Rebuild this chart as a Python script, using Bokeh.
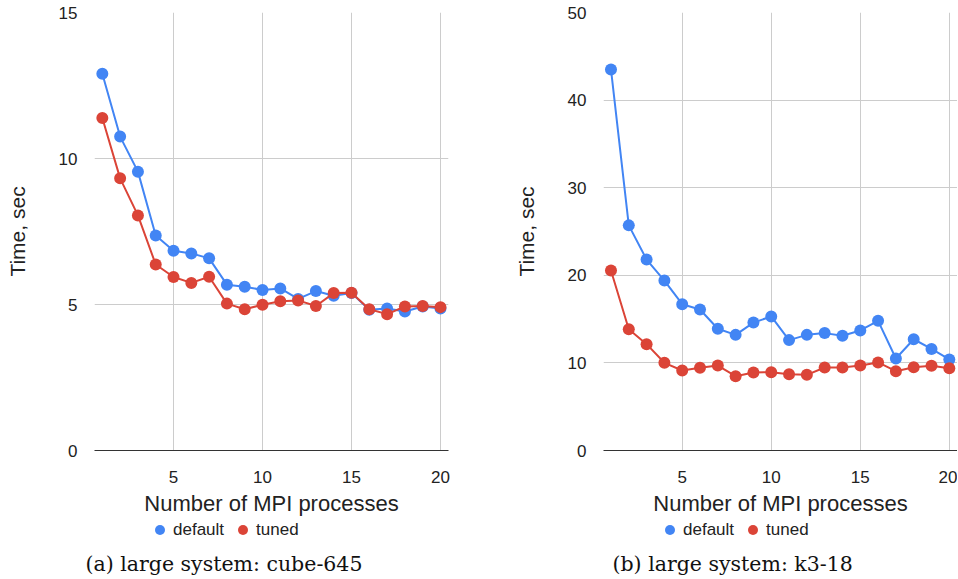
from bokeh.plotting import figure
from bokeh.models import ColumnDataSource, FixedTicker, Legend, LegendItem, Label
from bokeh.layouts import row, column
from bokeh.embed import file_html
from bokeh.resources import INLINE

procs = list(range(1, 21))

cube_default = [12.9, 10.75, 9.55, 7.36, 6.84, 6.75, 6.58, 5.68, 5.61, 5.50,
                5.55, 5.19, 5.46, 5.30, 5.39, 4.82, 4.86, 4.76, 4.93, 4.86]
cube_tuned = [11.39, 9.32, 8.05, 6.37, 5.94, 5.74, 5.95, 5.03, 4.84, 4.99,
              5.11, 5.14, 4.95, 5.39, 5.40, 4.84, 4.67, 4.93, 4.95, 4.91]

k3_default = [43.5, 25.7, 21.8, 19.4, 16.7, 16.1, 13.9, 13.2, 14.6, 15.3,
              12.6, 13.2, 13.4, 13.1, 13.7, 14.8, 10.5, 12.7, 11.6, 10.4]
k3_tuned = [20.55, 13.85, 12.14, 10.01, 9.13, 9.44, 9.70, 8.48, 8.90, 8.94,
            8.71, 8.64, 9.47, 9.47, 9.70, 10.05, 9.05, 9.51, 9.67, 9.40]

x_ticks = [5, 10, 15, 20]
cube_y_ticks = [0, 5, 10, 15]
k3_y_ticks = [0, 10, 20, 30, 40, 50]

series_names = ["default", "tuned"]
series_colors = ["#4285F4", "#DB4437"]

SANS = "Liberation Sans"
SERIF = "DejaVu Serif"

FOOT_H = 63


def make_chart(default_vals, tuned_vals, y_end, y_ticks, left_border, x_start, x_end, right_border):
    p = figure(frame_width=354, frame_height=438,
               x_range=(x_start, x_end), y_range=(0, y_end),
               output_backend="svg", toolbar_location=None, title=None,
               min_border_left=left_border, min_border_right=right_border,
               min_border_top=12, min_border_bottom=66)
    p.outline_line_color = None
    p.background_fill_color = "white"
    p.border_fill_color = "white"

    p.xaxis.ticker = FixedTicker(ticks=x_ticks)
    p.yaxis.ticker = FixedTicker(ticks=y_ticks)
    p.xgrid.ticker = FixedTicker(ticks=x_ticks)
    p.ygrid.ticker = FixedTicker(ticks=[t for t in y_ticks if t != 0])
    p.xgrid.grid_line_color = "#cccccc"
    p.ygrid.grid_line_color = "#cccccc"

    for ax in (p.xaxis, p.yaxis):
        ax.major_tick_line_color = None
        ax.minor_tick_line_color = None
        ax.major_label_text_font = SANS
        ax.major_label_text_font_size = "17px"
        ax.major_label_text_color = "#222222"
        ax.axis_label_text_font = SANS
        ax.axis_label_text_font_style = "normal"
        ax.axis_label_text_color = "#222222"
    p.yaxis.axis_line_color = None
    p.xaxis.axis_line_color = "#333333"
    p.xaxis.axis_line_width = 1
    p.xaxis.major_label_standoff = 14
    p.yaxis.major_label_standoff = 11
    p.xaxis.axis_label = "Number of MPI processes"
    p.xaxis.axis_label_text_font_size = "22px"
    p.xaxis.axis_label_standoff = 5
    p.yaxis.axis_label = "Time, sec"
    p.yaxis.axis_label_text_font_size = "21px"
    p.yaxis.axis_label_standoff = 27

    for vals, color in zip([default_vals, tuned_vals], series_colors):
        src = ColumnDataSource(dict(x=procs, y=vals))
        p.line("x", "y", source=src, line_color=color, line_width=2)
        p.scatter("x", "y", source=src, size=12, fill_color=color,
                  line_color=color, line_width=0)
    return p


def make_footer(width, default_vals, tuned_vals, caption, legend_x, caption_x):
    # ranges far away from the data: the series renderers here only feed the legend
    f = figure(width=width, height=FOOT_H, x_range=(-1000 - width, -1000), y_range=(-1000 - FOOT_H, -1000),
               output_backend="svg", toolbar_location=None, title=None,
               x_axis_location=None, y_axis_location=None, min_border=0)
    f.outline_line_color = None
    f.grid.grid_line_color = None
    f.background_fill_color = "white"
    f.border_fill_color = "white"

    items = []
    for name, vals, color in zip(series_names, [default_vals, tuned_vals], series_colors):
        r = f.scatter(x=procs, y=vals, size=10, fill_color=color, line_color=color, line_width=0)
        items.append(LegendItem(label=name, renderers=[r]))
    legend = Legend(items=items, orientation="horizontal", location=(legend_x, 39),
                    margin=0, padding=0, spacing=6, label_standoff=1,
                    glyph_width=25, glyph_height=25,
                    label_text_font=SANS, label_text_font_size="17px",
                    label_text_color="#222222", border_line_color=None,
                    background_fill_alpha=0)
    f.add_layout(legend, "center")

    cap = Label(x=caption_x, y=18, x_units="screen", y_units="screen",
                text=caption, text_font=SERIF, text_font_size="20.5px",
                text_color="#111111", text_baseline="middle", text_align="left")
    f.add_layout(cap)
    return f


p1 = make_chart(cube_default, cube_tuned, 15, cube_y_ticks, 94, 0.56, 20.45, 32)
p2 = make_chart(k3_default, k3_tuned, 50, k3_y_ticks, 123, 0.58, 20.46, 0)
f1 = make_footer(480, cube_default, cube_tuned, "(a) large system: cube-645", 147, 85)
f2 = make_footer(477, k3_default, k3_tuned, "(b) large system: k3-18", 177, 132)

layout = column(row(p1, p2), row(f1, f2))
open("out.html", "w").write(file_html(layout, INLINE))
